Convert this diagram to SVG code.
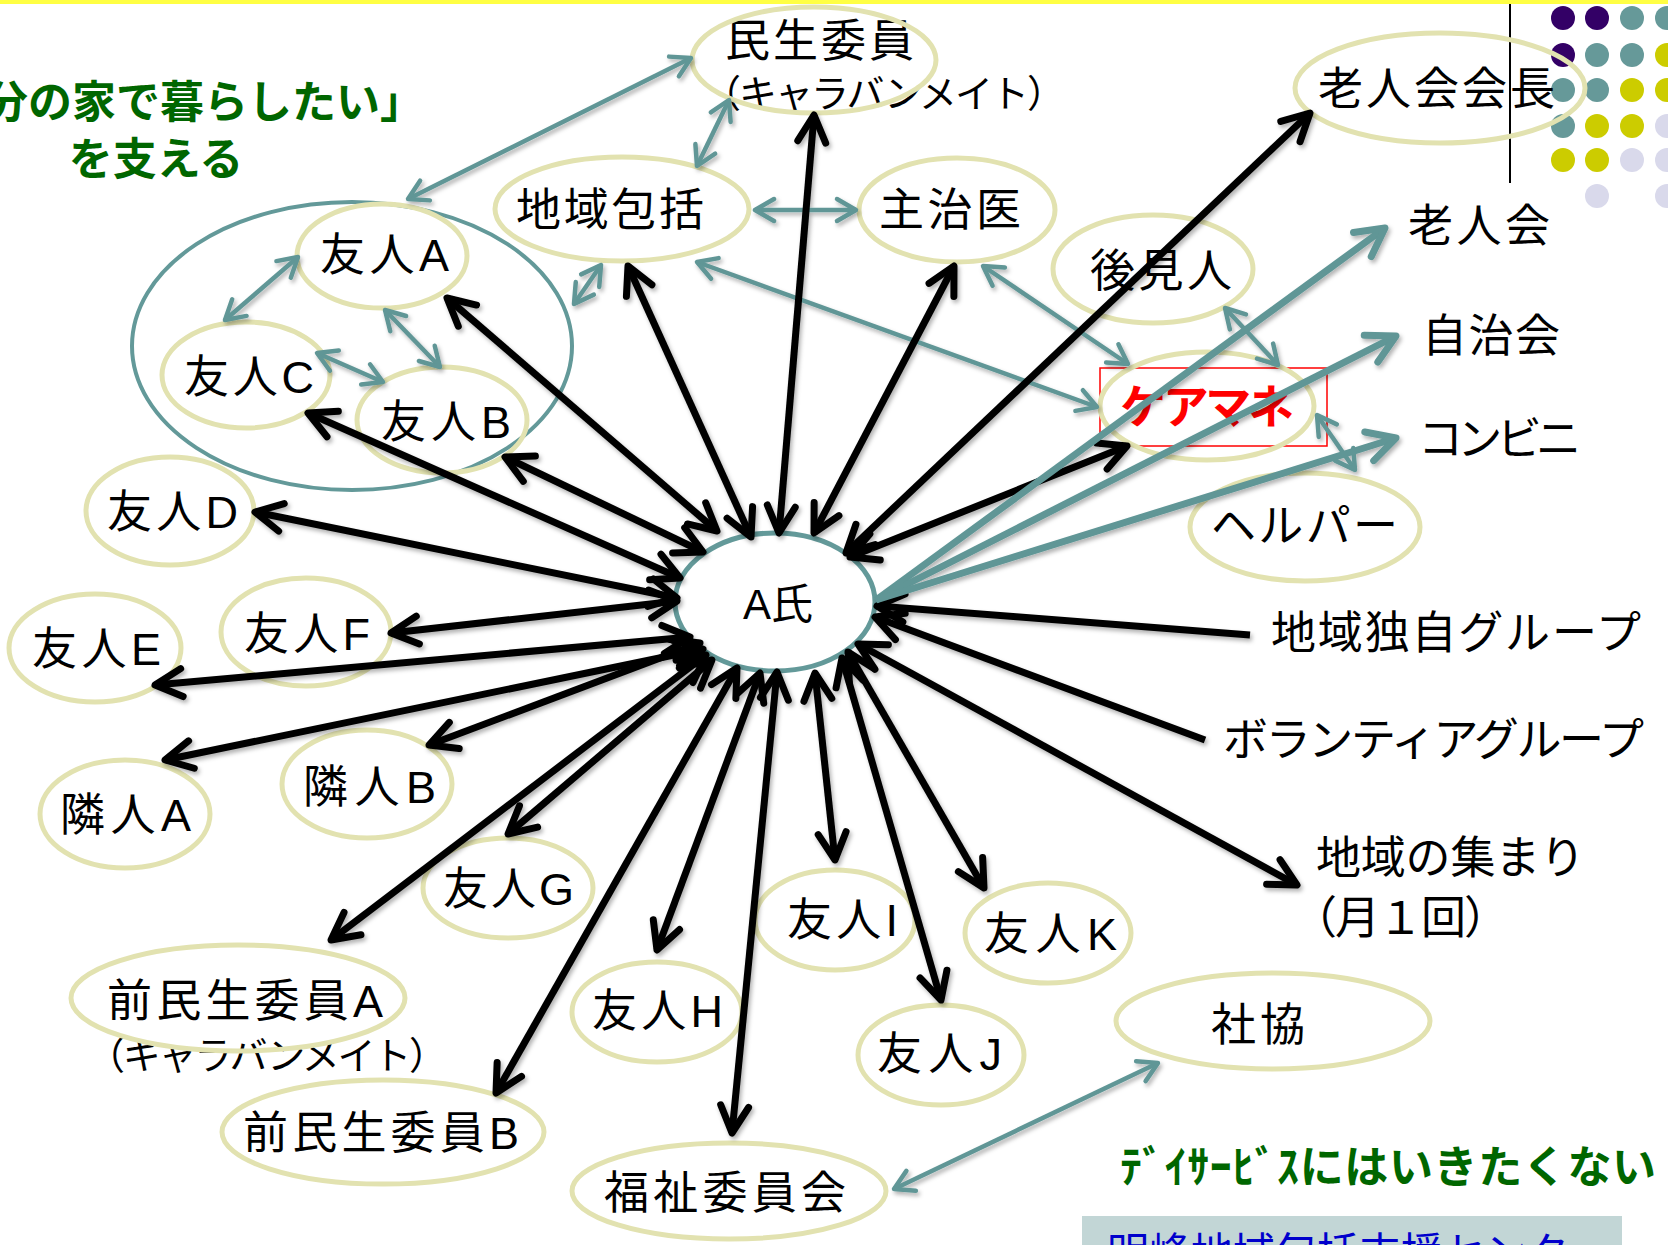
<svg xmlns="http://www.w3.org/2000/svg" width="1668" height="1245" viewBox="0 0 1668 1245">
<style>
.n ellipse{fill:none;stroke:#E2E2B0;stroke-width:5}
.t{font-family:"Liberation Sans","Noto Sans CJK JP",sans-serif;font-size:45px;fill:#000}
.s{font-size:38px}
.g{font-family:"Noto Sans CJK JP",sans-serif;font-size:44px;font-weight:bold;fill:#006600}
.cb{stroke:#000;stroke-width:7;fill:none;marker-start:url(#ab);marker-end:url(#ab)}
.cb1{stroke:#000;stroke-width:7;fill:none;marker-end:url(#ab)}
.ct{stroke:#609696;stroke-width:4.5;fill:none;marker-start:url(#at);marker-end:url(#at)}
.ctt{stroke:#609696;stroke-width:7;fill:none;marker-end:url(#att)}
</style>
<defs>
<marker id="ab" markerUnits="userSpaceOnUse" viewBox="-40 -25 50 50" markerWidth="50" markerHeight="50" refX="0" refY="0" orient="auto-start-reverse">
<path d="M-27,-14 L0,0 L-27,14" fill="none" stroke="#000" stroke-width="7" stroke-linecap="round" stroke-linejoin="round"/>
</marker>
<marker id="at" markerUnits="userSpaceOnUse" viewBox="-30 -20 40 40" markerWidth="40" markerHeight="40" refX="0" refY="0" orient="auto-start-reverse">
<path d="M-19,-11 L0,0 L-19,11" fill="none" stroke="#609696" stroke-width="4.5" stroke-linecap="round" stroke-linejoin="round"/>
</marker>
<marker id="att" markerUnits="userSpaceOnUse" viewBox="-40 -25 50 50" markerWidth="50" markerHeight="50" refX="0" refY="0" orient="auto">
<path d="M-28,-15 L0,0 L-28,15" fill="none" stroke="#609696" stroke-width="7" stroke-linecap="round" stroke-linejoin="round"/>
</marker>
<filter id="sh" x="-5%" y="-5%" width="110%" height="110%">
<feDropShadow dx="2" dy="3" stdDeviation="2" flood-color="#000" flood-opacity="0.3"/>
</filter>
</defs>
<rect width="1668" height="1245" fill="#fff"/>
<rect x="0" y="0" width="1668" height="4" fill="#FFFF44"/>
<line x1="1510" y1="4" x2="1510" y2="183" stroke="#000" stroke-width="2"/>
<g id="dots">
<circle cx="1563" cy="18" r="12" fill="#330066"/><circle cx="1597" cy="18" r="12" fill="#330066"/><circle cx="1632" cy="18" r="12" fill="#669999"/><circle cx="1667" cy="18" r="12" fill="#669999"/>
<circle cx="1563" cy="55" r="12" fill="#330066"/><circle cx="1597" cy="55" r="12" fill="#669999"/><circle cx="1632" cy="55" r="12" fill="#669999"/><circle cx="1667" cy="55" r="12" fill="#CCCC00"/>
<circle cx="1563" cy="90" r="12" fill="#669999"/><circle cx="1597" cy="90" r="12" fill="#669999"/><circle cx="1632" cy="90" r="12" fill="#CCCC00"/><circle cx="1667" cy="90" r="12" fill="#CCCC00"/>
<circle cx="1563" cy="126" r="12" fill="#669999"/><circle cx="1597" cy="126" r="12" fill="#CCCC00"/><circle cx="1632" cy="126" r="12" fill="#CCCC00"/><circle cx="1667" cy="126" r="12" fill="#D9D9EB"/>
<circle cx="1563" cy="160" r="12" fill="#CCCC00"/><circle cx="1597" cy="160" r="12" fill="#CCCC00"/><circle cx="1632" cy="160" r="12" fill="#D9D9EB"/><circle cx="1667" cy="160" r="12" fill="#D9D9EB"/>
<circle cx="1597" cy="196" r="12" fill="#D9D9EB"/><circle cx="1667" cy="196" r="12" fill="#D9D9EB"/>
</g>
<g id="title">
<text class="g" x="424" y="118" text-anchor="end">「自分の家で暮らしたい」</text>
<text class="g" x="156" y="175" text-anchor="middle">を支える</text>
</g>
<g id="note">
<text class="g" x="1120" y="1183" textLength="536">ﾃﾞｲｻｰﾋﾞｽにはいきたくない</text>
</g>
<g id="center-box">
<rect x="1082" y="1216" width="540" height="40" fill="#C2D6D6"/>
<text class="t" x="1107" y="1268" style="fill:#0000CC;font-size:42px">明峰地域包括支援センター</text>
</g>
<g id="friends-group"><ellipse cx="352" cy="346" rx="220" ry="144" fill="none" stroke="#639999" stroke-width="4"/></g>
<g id="n-minsei" class="n"><text class="t" x="725" y="57" textLength="189">民生委員</text><text class="t s" x="703" y="107" textLength="362">（キャラバンメイト）</text><ellipse cx="814" cy="60" rx="122" ry="53"/></g>
<g id="n-chiiki" class="n"><ellipse cx="622" cy="209" rx="127" ry="52"/><text class="t" x="516" y="226" textLength="188">地域包括</text></g>
<g id="n-shuji" class="n"><ellipse cx="957" cy="210" rx="98" ry="52"/><text class="t" x="879" y="226" textLength="142">主治医</text></g>
<g id="n-kouken" class="n"><ellipse cx="1153" cy="269" rx="100" ry="54"/><text class="t" x="1090" y="287" textLength="142">後見人</text></g>
<g id="n-caremane" class="n"><rect x="1100" y="368" width="227" height="78" fill="none" stroke="#FF0000" stroke-width="1.5"/><ellipse cx="1207" cy="406" rx="107" ry="54"/><text class="t" x="1120" y="423" textLength="174" style="fill:#FF0000;font-weight:bold;font-size:46px">ケアマネ</text></g>
<g id="n-helper" class="n"><ellipse cx="1305" cy="527" rx="115" ry="54"/><text class="t" x="1211" y="542" textLength="187">ヘルパー</text></g>
<g id="n-roujinkaicho" class="n"><ellipse cx="1440" cy="88" rx="145" ry="55"/><text class="t" x="1318" y="105" textLength="237">老人会会長</text></g>
<g id="n-roujinkai"><text class="t" x="1408" y="242" textLength="142">老人会</text></g>
<g id="n-jichikai"><text class="t" x="1422" y="352" textLength="138">自治会</text></g>
<g id="n-conveni"><text class="t" x="1418" y="455" textLength="163">コンビニ</text></g>
<g id="n-dokuji"><text class="t" x="1271" y="649" textLength="370">地域独自グループ</text></g>
<g id="n-volunteer"><text class="t" x="1223" y="756" textLength="421">ボランティアグループ</text></g>
<g id="n-atsumari"><text class="t" x="1316" y="874" textLength="269">地域の集まり</text><text class="t" x="1292" y="934" textLength="217">（月１回）</text></g>
<g id="n-a"><ellipse cx="775" cy="602" rx="100" ry="69" fill="#fff" stroke="#639999" stroke-width="5"/><text class="t" x="743" y="619" style="font-size:42px">A氏</text></g>
<g id="n-yujinA" class="n"><ellipse cx="382" cy="256" rx="85" ry="52"/><text class="t" x="320" y="271" textLength="129">友人A</text></g>
<g id="n-yujinC" class="n"><ellipse cx="246" cy="375" rx="84" ry="53"/><text class="t" x="184" y="393" textLength="130">友人C</text></g>
<g id="n-yujinB" class="n"><ellipse cx="442" cy="420" rx="85" ry="53"/><text class="t" x="381" y="438" textLength="130">友人B</text></g>
<g id="n-yujinD" class="n"><ellipse cx="170" cy="511" rx="84" ry="54"/><text class="t" x="107" y="528" textLength="131">友人D</text></g>
<g id="n-yujinF" class="n"><ellipse cx="306" cy="632" rx="85" ry="54"/><text class="t" x="244" y="650" textLength="126">友人F</text></g>
<g id="n-yujinE" class="n"><ellipse cx="95" cy="648" rx="86" ry="54"/><text class="t" x="32" y="665" textLength="129">友人E</text></g>
<g id="n-rinjinB" class="n"><ellipse cx="367" cy="784" rx="85" ry="54"/><text class="t" x="303" y="803" textLength="133">隣人B</text></g>
<g id="n-rinjinA" class="n"><ellipse cx="125" cy="814" rx="85" ry="54"/><text class="t" x="60" y="831" textLength="131">隣人A</text></g>
<g id="n-yujinG" class="n"><ellipse cx="508" cy="888" rx="85" ry="50"/><text class="t" x="443" y="905" textLength="131">友人G</text></g>
<g id="n-maeA" class="n"><text class="t" x="107" y="1017" textLength="276">前民生委員A</text><text class="t s" x="87" y="1069" textLength="360">（キャラバンメイト）</text><ellipse cx="238" cy="998" rx="167" ry="53"/></g>
<g id="n-maeB" class="n"><ellipse cx="383" cy="1132" rx="161" ry="52"/><text class="t" x="243" y="1149" textLength="276">前民生委員B</text></g>
<g id="n-yujinH" class="n"><ellipse cx="657" cy="1012" rx="85" ry="50"/><text class="t" x="592" y="1027" textLength="131">友人H</text></g>
<g id="n-yujinI" class="n"><ellipse cx="835" cy="920" rx="80" ry="50"/><text class="t" x="787" y="936" textLength="111">友人I</text></g>
<g id="n-yujinJ" class="n"><ellipse cx="941" cy="1055" rx="83" ry="50"/><text class="t" x="877" y="1070" textLength="125">友人J</text></g>
<g id="n-yujinK" class="n"><ellipse cx="1048" cy="933" rx="83" ry="50"/><text class="t" x="984" y="950" textLength="133">友人K</text></g>
<g id="n-fukushi" class="n"><ellipse cx="729" cy="1191" rx="157" ry="48"/><text class="t" x="604" y="1209" textLength="242">福祉委員会</text></g>
<g id="n-shakyo" class="n"><ellipse cx="1273" cy="1021" rx="157" ry="48"/><text class="t" x="1211" y="1041" textLength="94">社協</text></g>
<g id="connectors" filter="url(#sh)">
<line class="ct" x1="691" y1="58" x2="408" y2="199"/>
<line class="ct" x1="729" y1="100" x2="697" y2="166"/>
<line class="ct" x1="755" y1="210" x2="856" y2="210"/>
<line class="ct" x1="601" y1="265" x2="574" y2="304"/>
<line class="ct" x1="298" y1="257" x2="225" y2="320"/>
<line class="ct" x1="385" y1="310" x2="440" y2="367"/>
<line class="ct" x1="317" y1="353" x2="383" y2="382"/>
<line class="ct" x1="697" y1="262" x2="1097" y2="407"/>
<line class="ct" x1="983" y1="266" x2="1128" y2="364"/>
<line class="ct" x1="1225" y1="308" x2="1278" y2="365"/>
<line class="ct" x1="1317" y1="415" x2="1355" y2="470"/>
<line class="ct" x1="894" y1="1189" x2="1158" y2="1063"/>
<line class="cb" x1="814" y1="115" x2="779" y2="533"/>
<line class="cb" x1="628" y1="266" x2="751" y2="537"/>
<line class="cb" x1="447" y1="298" x2="717" y2="531"/>
<line class="cb" x1="954" y1="266" x2="814" y2="533"/>
<line class="cb" x1="1310" y1="113" x2="846" y2="553"/>
<line class="cb" x1="1127" y1="446" x2="850" y2="557"/>
<line class="cb1" x1="1250" y1="635" x2="877" y2="606"/>
<line class="cb1" x1="1205" y1="740" x2="875" y2="617"/>
<line class="cb" x1="1297" y1="885" x2="858" y2="644"/>
<line class="cb" x1="984" y1="888" x2="848" y2="652"/>
<line class="cb" x1="941" y1="1000" x2="842" y2="658"/>
<line class="cb" x1="835" y1="860" x2="815" y2="673"/>
<line class="cb" x1="732" y1="1133" x2="777" y2="672"/>
<line class="cb" x1="657" y1="950" x2="760" y2="673"/>
<line class="cb" x1="496" y1="1093" x2="737" y2="668"/>
<line class="cb" x1="508" y1="834" x2="712" y2="660"/>
<line class="cb" x1="331" y1="940" x2="706" y2="655"/>
<line class="cb" x1="429" y1="745" x2="700" y2="643"/>
<line class="cb" x1="165" y1="760" x2="703" y2="649"/>
<line class="cb" x1="155" y1="685" x2="690" y2="637"/>
<line class="cb" x1="391" y1="633" x2="677" y2="601"/>
<line class="cb" x1="255" y1="512" x2="677" y2="598"/>
<line class="cb" x1="308" y1="413" x2="680" y2="578"/>
<line class="cb" x1="505" y1="457" x2="703" y2="552"/>
<line class="ctt" x1="876" y1="600" x2="1385" y2="228"/>
<line class="ctt" x1="876" y1="600" x2="1396" y2="336"/>
<line class="ctt" x1="876" y1="600" x2="1396" y2="438"/>
</g>
</svg>
